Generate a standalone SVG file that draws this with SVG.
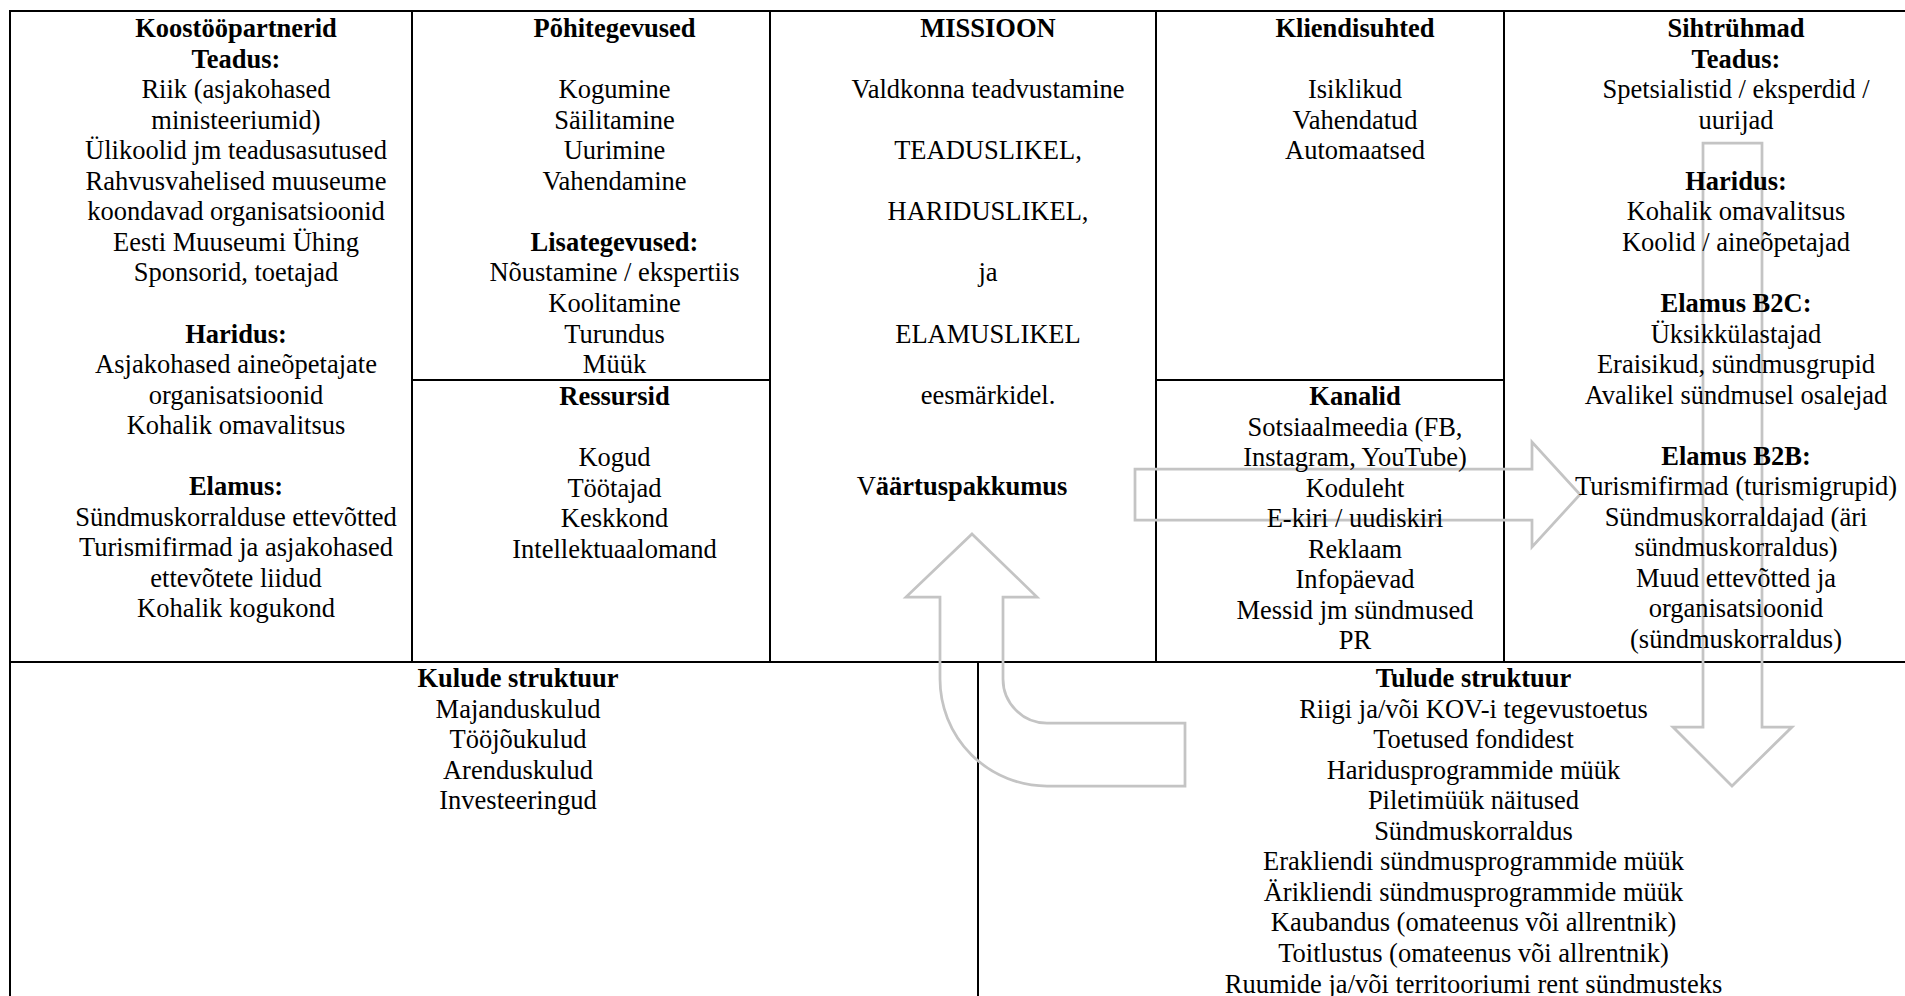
<svg xmlns="http://www.w3.org/2000/svg" width="1905" height="996" viewBox="0 0 1905 996">
<style>
text { font-family: "Liberation Serif", "Times New Roman", serif; font-size: 26.5px; fill: #000; text-anchor: middle; }
.b { font-weight: bold; }
.n { font-weight: normal; }
#grid line { stroke: #000; stroke-width: 2; }
.arrow { fill: none; stroke: #c4c4c4; stroke-width: 2.75; stroke-linejoin: miter; }
</style>
<rect width="1905" height="996" fill="#fff"/>
<g id="grid">
<line x1="10" y1="11" x2="1905" y2="11"/>
<line x1="10" y1="10" x2="10" y2="996"/>
<line x1="412" y1="11" x2="412" y2="662"/>
<line x1="770" y1="11" x2="770" y2="662"/>
<line x1="1156" y1="11" x2="1156" y2="662"/>
<line x1="1504" y1="11" x2="1504" y2="662"/>
<line x1="412" y1="380" x2="770" y2="380"/>
<line x1="1156" y1="380" x2="1504" y2="380"/>
<line x1="10" y1="662" x2="1905" y2="662"/>
<line x1="978" y1="662" x2="978" y2="996"/>
</g>
<g id="connectors">
<path class="arrow" d="M1135 469 L1532 469 L1532 442 L1580 494.5 L1532 547 L1532 520 L1135 520 Z"/>
<path class="arrow" d="M1703 143 L1762 143 L1762 727 L1792 727 L1732 786 L1673 727 L1703 727 Z"/>
<path class="arrow" d="M972 534 L1037 597 L1003 597 L1003 679 A44 44 0 0 0 1047 723 L1185 723 L1185 786 L1047 786 A107 107 0 0 1 940 679 L940 597 L906 597 Z"/>
</g>
<g id="partners">
<text x="236" y="37" class="b">Koostööpartnerid</text>
<text x="236" y="67.55" class="b">Teadus:</text>
<text x="236" y="98.1">Riik (asjakohased</text>
<text x="236" y="128.65">ministeeriumid)</text>
<text x="236" y="159.2">Ülikoolid jm teadusasutused</text>
<text x="236" y="189.75">Rahvusvahelised muuseume</text>
<text x="236" y="220.3">koondavad organisatsioonid</text>
<text x="236" y="250.85">Eesti Muuseumi Ühing</text>
<text x="236" y="281.4">Sponsorid, toetajad</text>
<text x="236" y="342.5" class="b">Haridus:</text>
<text x="236" y="373.05">Asjakohased aineõpetajate</text>
<text x="236" y="403.6">organisatsioonid</text>
<text x="236" y="434.15">Kohalik omavalitsus</text>
<text x="236" y="495.25" class="b">Elamus:</text>
<text x="236" y="525.8">Sündmuskorralduse ettevõtted</text>
<text x="236" y="556.35">Turismifirmad ja asjakohased</text>
<text x="236" y="586.9">ettevõtete liidud</text>
<text x="236" y="617.45">Kohalik kogukond</text>
</g>
<g id="activities">
<text x="614.5" y="37" class="b">Põhitegevused</text>
<text x="614.5" y="98.1">Kogumine</text>
<text x="614.5" y="128.65">Säilitamine</text>
<text x="614.5" y="159.2">Uurimine</text>
<text x="614.5" y="189.75">Vahendamine</text>
<text x="614.5" y="250.85" class="b">Lisategevused:</text>
<text x="614.5" y="281.4">Nõustamine / ekspertiis</text>
<text x="614.5" y="311.95">Koolitamine</text>
<text x="614.5" y="342.5">Turundus</text>
<text x="614.5" y="373.05">Müük</text>
</g>
<g id="resources">
<text x="614.5" y="405" class="b">Ressursid</text>
<text x="614.5" y="466.1">Kogud</text>
<text x="614.5" y="496.65">Töötajad</text>
<text x="614.5" y="527.2">Keskkond</text>
<text x="614.5" y="557.75">Intellektuaalomand</text>
</g>
<g id="mission">
<text x="988" y="37" class="b">MISSIOON</text>
<text x="988" y="98.1">Valdkonna teadvustamine</text>
<text x="988" y="159.2">TEADUSLIKEL,</text>
<text x="988" y="220.3">HARIDUSLIKEL,</text>
<text x="988" y="281.4">ja</text>
<text x="988" y="342.5">ELAMUSLIKEL</text>
<text x="988" y="403.6">eesmärkidel.</text>
<text x="962" y="495.25" class="b"><tspan class="n">V</tspan>äärtuspakkumus</text>
</g>
<g id="relations">
<text x="1355" y="37" class="b">Kliendisuhted</text>
<text x="1355" y="98.1">Isiklikud</text>
<text x="1355" y="128.65">Vahendatud</text>
<text x="1355" y="159.2">Automaatsed</text>
</g>
<g id="channels">
<text x="1355" y="405" class="b">Kanalid</text>
<text x="1355" y="435.55">Sotsiaalmeedia (FB,</text>
<text x="1355" y="466.1">Instagram, YouTube)</text>
<text x="1355" y="496.65">Koduleht</text>
<text x="1355" y="527.2">E-kiri / uudiskiri</text>
<text x="1355" y="557.75">Reklaam</text>
<text x="1355" y="588.3">Infopäevad</text>
<text x="1355" y="618.85">Messid jm sündmused</text>
<text x="1355" y="649.4">PR</text>
</g>
<g id="segments">
<text x="1736" y="37" class="b">Sihtrühmad</text>
<text x="1736" y="67.55" class="b">Teadus:</text>
<text x="1736" y="98.1">Spetsialistid / eksperdid /</text>
<text x="1736" y="128.65">uurijad</text>
<text x="1736" y="189.75" class="b">Haridus:</text>
<text x="1736" y="220.3">Kohalik omavalitsus</text>
<text x="1736" y="250.85">Koolid / aineõpetajad</text>
<text x="1736" y="311.95" class="b">Elamus B2C:</text>
<text x="1736" y="342.5">Üksikkülastajad</text>
<text x="1736" y="373.05">Eraisikud, sündmusgrupid</text>
<text x="1736" y="403.6">Avalikel sündmusel osalejad</text>
<text x="1736" y="464.7" class="b">Elamus B2B:</text>
<text x="1736" y="495.25">Turismifirmad (turismigrupid)</text>
<text x="1736" y="525.8">Sündmuskorraldajad (äri</text>
<text x="1736" y="556.35">sündmuskorraldus)</text>
<text x="1736" y="586.9">Muud ettevõtted ja</text>
<text x="1736" y="617.45">organisatsioonid</text>
<text x="1736" y="648">(sündmuskorraldus)</text>
</g>
<g id="costs">
<text x="518" y="687" class="b">Kulude struktuur</text>
<text x="518" y="717.55">Majanduskulud</text>
<text x="518" y="748.1">Tööjõukulud</text>
<text x="518" y="778.65">Arenduskulud</text>
<text x="518" y="809.2">Investeeringud</text>
</g>
<g id="revenue">
<text x="1473.5" y="687" class="b">Tulude struktuur</text>
<text x="1473.5" y="717.55">Riigi ja/või KOV-i tegevustoetus</text>
<text x="1473.5" y="748.1">Toetused fondidest</text>
<text x="1473.5" y="778.65">Haridusprogrammide müük</text>
<text x="1473.5" y="809.2">Piletimüük näitused</text>
<text x="1473.5" y="839.75">Sündmuskorraldus</text>
<text x="1473.5" y="870.3">Erakliendi sündmusprogrammide müük</text>
<text x="1473.5" y="900.85">Ärikliendi sündmusprogrammide müük</text>
<text x="1473.5" y="931.4">Kaubandus (omateenus või allrentnik)</text>
<text x="1473.5" y="961.95">Toitlustus (omateenus või allrentnik)</text>
<text x="1473.5" y="992.5">Ruumide ja/või territooriumi rent sündmusteks</text>
</g>
</svg>
